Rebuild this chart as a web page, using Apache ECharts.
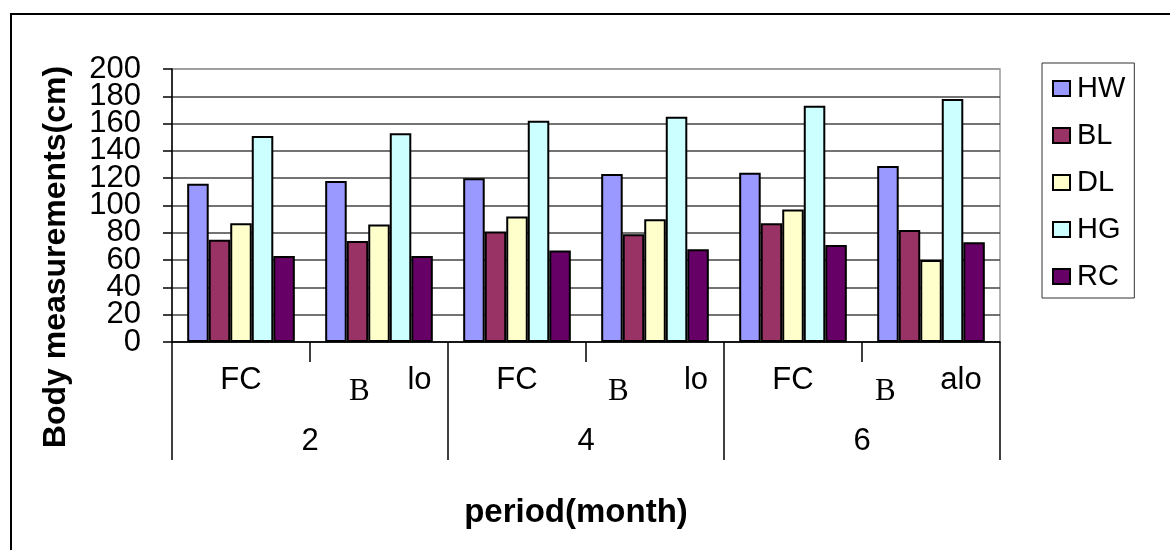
<!DOCTYPE html>
<html>
<head>
<meta charset="utf-8">
<style>
  html, body { margin: 0; padding: 0; background: #fff; }
  #chart { width: 1170px; height: 550px; }
</style>
<script src="https://cdn.jsdelivr.net/npm/echarts@6/dist/echarts.min.js"></script>
</head>
<body>
<div id="chart"></div>
<script>
// sub categories (two per period) and the period groups
const subLabels = ['FC', 'B', 'FC', 'B', 'FC', 'B'];
const subTails = ['', 'lo', '', 'lo', '', 'alo'];
const periods = ['2', '4', '6'];
const yTicks = [0, 20, 40, 60, 80, 100, 120, 140, 160, 180, 200];

// body measurements (cm)
const HW = [116, 118, 120, 123, 124, 129];
const BL = [75, 74, 81, 79, 87, 82];
const DL = [87, 86, 92, 90, 97, 60];
const HG = [151, 153, 162, 165, 173, 178];
const RC = [63, 63, 67, 68, 71, 73];

const seriesNames = ['HW', 'BL', 'DL', 'HG', 'RC'];
const seriesData = [HW, BL, DL, HG, RC];
const colors = ['#9999FF', '#993366', '#FFFFCC', '#CCFFFF', '#660066'];

const font = 'Liberation Sans, Arial, sans-serif';

// gap before "B", width of "B"+space, width of tail, gap after tail
const tailLayout = [null, [30, 56, 29, 5], null, [13, 76, 24, 7], null, [4, 64, 44, 8]];

const series = seriesNames.map((name, i) => ({
  name,
  type: 'bar',
  data: seriesData[i],
  barGap: '0%',
  barCategoryGap: '22%',
  itemStyle: {
    color: colors[i],
    borderColor: '#000',
    borderWidth: 2,
  },
}));

const splitColors = yTicks.map((v, i) => (i === yTicks.length - 1 ? '#999' : '#444'));

const rich = {};
tailLayout.forEach((lay, idx) => {
  if (!lay) return;
  const k = (idx - 1) / 2;
  rich['g' + k] = { width: lay[0], align: 'left', verticalAlign: 'top' };
  rich['b' + k] = {
    fontFamily: 'Liberation Serif, Times New Roman, serif',
    fontSize: 31,
    padding: [11, 0, 0, 0],
    width: lay[1],
    align: 'left',
    verticalAlign: 'top',
  };
  rich['s' + k] = { fontFamily: font, fontSize: 31, width: lay[2], align: 'right', verticalAlign: 'top' };
  rich['e' + k] = { width: lay[3], align: 'left', verticalAlign: 'top' };
});

const yTickStyle = { color: '#000', width: 1.5 };
const yLabelStyle = { fontFamily: font, fontSize: 31, color: '#000', hideOverlap: false };
// labels alternate between the two y axes so that none gets hidden as overlapping
const isEvenTick = (v) => yTicks.indexOf(v) % 2 === 0;

const option = {
  animation: false,
  backgroundColor: '#fff',
  grid: {
    left: 172,
    top: 69,
    right: 170,
    bottom: 208,
    show: true,
    borderColor: '#999',
    borderWidth: 1.5,
  },
  legend: {
    orient: 'vertical',
    left: 1042,
    top: 63,
    padding: [11, 9, 7, 10],
    itemGap: 18,
    itemWidth: 17,
    itemHeight: 15,
    icon: 'rect',
    borderColor: '#333',
    borderWidth: 1,
    itemStyle: { borderColor: '#000', borderWidth: 2 },
    textStyle: {
      fontFamily: font,
      fontSize: 29,
      color: '#000',
      padding: [0, 0, 0, 2],
    },
    data: seriesNames,
  },
  xAxis: [
    {
      type: 'category',
      data: subLabels,
      axisLine: { lineStyle: { color: '#000', width: 1.5 } },
      axisTick: { show: true, length: 20, interval: 0, lineStyle: { color: '#000', width: 1.5 } },
      axisLabel: {
        interval: 0,
        margin: 23,
        fontFamily: font,
        fontSize: 31,
        color: '#000',
        formatter: (value, idx) => {
          if (!tailLayout[idx]) return value;
          const k = (idx - 1) / 2;
          return '{g' + k + '|}{b' + k + '|' + value + '}{s' + k + '|' + subTails[idx] + '}{e' + k + '|}';
        },
        rich,
      },
    },
    {
      type: 'category',
      data: periods,
      position: 'bottom',
      axisLine: { show: false },
      axisTick: { show: true, length: 118, interval: 0, lineStyle: { color: '#000', width: 1.5 } },
      axisLabel: {
        interval: 0,
        margin: 84,
        fontFamily: font,
        fontSize: 31,
        color: '#000',
      },
    },
  ],
  yAxis: [
    {
      type: 'value',
      min: 0,
      max: 200,
      interval: 20,
      axisLine: { show: true, lineStyle: { color: '#000', width: 1.5 } },
      axisTick: { show: true, inside: false, length: 9, lineStyle: yTickStyle },
      axisLabel: Object.assign({}, yLabelStyle, {
        showMinLabel: true,
        showMaxLabel: true,
        margin: 31,
        formatter: (v) => (isEvenTick(v) ? String(v) : ''),
      }),
      splitLine: { show: true, lineStyle: { color: splitColors, width: 1.5 } },
    },
    {
      // same scale: short outside ticks and the other half of the labels
      type: 'value',
      min: 0,
      max: 200,
      interval: 20,
      position: 'left',
      offset: 9,
      axisLine: { show: false },
      axisTick: { show: true, inside: true, length: 9, lineStyle: yTickStyle },
      axisLabel: Object.assign({}, yLabelStyle, {
        margin: 22,
        formatter: (v) => (isEvenTick(v) ? '' : String(v)),
      }),
      splitLine: { show: false },
    },
  ],
  graphic: [
    {
      type: 'rect',
      shape: { x: 11, y: 14, width: 1300, height: 700 },
      style: { fill: 'none', stroke: '#000', lineWidth: 2 },
      silent: true,
      z: -10,
    },
    {
      type: 'text',
      x: 56,
      y: 257,
      rotation: Math.PI / 2,
      style: {
        text: 'Body measurements(cm)',
        fontFamily: font,
        fontWeight: 'bold',
        fontSize: 32,
        fill: '#000',
        align: 'center',
        verticalAlign: 'middle',
      },
    },
    {
      type: 'text',
      x: 576,
      y: 513,
      style: {
        text: 'period(month)',
        fontFamily: font,
        fontWeight: 'bold',
        fontSize: 33,
        fill: '#000',
        align: 'center',
        verticalAlign: 'middle',
      },
    },
  ],
  series,
};

const chart = echarts.init(document.getElementById('chart'));
chart.setOption(option);
</script>
</body>
</html>
